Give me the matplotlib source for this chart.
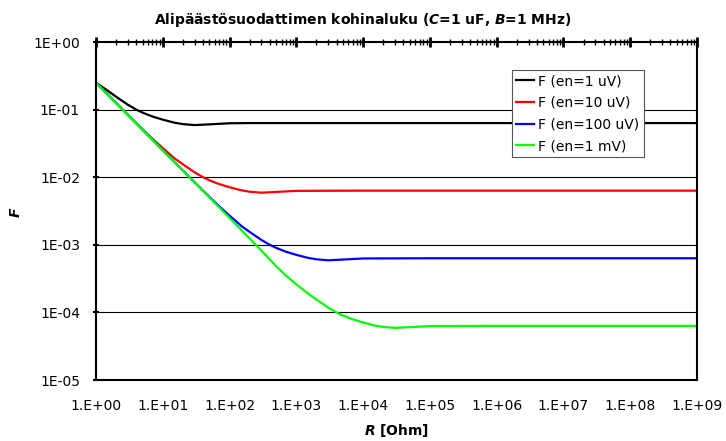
import math
import matplotlib
matplotlib.use("Agg")
import matplotlib.pyplot as plt
from matplotlib.ticker import FixedLocator, LogLocator, NullFormatter, FuncFormatter

plt.rcParams['font.family'] = ['DejaVu Sans']
plt.rcParams['mathtext.fontset'] = 'custom'
plt.rcParams['mathtext.it'] = 'DejaVu Sans:italic:bold'
plt.rcParams['mathtext.rm'] = 'DejaVu Sans:bold'
plt.rcParams['mathtext.bf'] = 'DejaVu Sans:bold'

# values (R in ohm, F dimensionless)
r_black = [1, 1.5, 2, 3, 4, 5, 7, 10, 15, 20, 30, 50, 100, 200, 1e3, 1e4, 1e9]
f_black = [0.25, 0.19, 0.155, 0.118, 0.100, 0.090, 0.079, 0.071, 0.064, 0.061,
           0.059, 0.0605, 0.0628, 0.0632, 0.0632, 0.0632, 0.0632]

r_red = [1, 2, 3, 5, 7, 10, 15, 20, 30, 40, 50, 70, 100, 150, 200, 300, 500, 1e3,
         1e4, 1e9]
f_red = [0.25, 0.125, 0.084, 0.051, 0.037, 0.027, 0.019, 0.0155, 0.0118, 0.0100,
         0.0090, 0.0079, 0.0071, 0.0064, 0.0061, 0.0059, 0.00605, 0.00628, 0.00632,
         0.00632]

r_blue = [1, 10, 30, 50, 70, 100, 150, 200, 300, 400, 500, 700, 1000, 1500, 2000,
          3000, 5000, 1e4, 1e5, 1e9]
f_blue = [0.25, 0.025, 0.0084, 0.0051, 0.0037, 0.0027, 0.0019, 0.00155, 0.00118,
          0.00100, 0.00090, 0.00079, 0.00071, 0.00064, 0.00061, 0.00059, 0.000605,
          0.000628, 0.000632, 0.000632]

r_green = [1, 10, 100, 300, 500, 700, 1000, 1500, 2000, 3000, 4000, 5000, 7000, 1e4,
           1.5e4, 2e4, 3e4, 5e4, 1e5, 1e6, 1e9]
f_green = [0.25, 0.025, 0.0025, 0.00082, 0.00048, 0.00035, 0.00026, 0.00019,
           0.000155, 0.000118, 0.000100, 0.000090, 0.000079, 0.000071, 0.000064,
           0.000061, 0.000059, 0.0000605, 0.0000628, 0.0000632, 0.0000632]

series = [
    (r_black, f_black, 'F (en=1 uV)', 'black'),
    (r_red, f_red, 'F (en=10 uV)', '#ff0000'),
    (r_blue, f_blue, 'F (en=100 uV)', '#0000ff'),
    (r_green, f_green, 'F (en=1 mV)', '#00ff00'),
]

x_ticks = [10.0 ** k for k in range(0, 10)]
y_ticks = [10.0 ** k for k in range(-5, 1)]

fig = plt.figure(figsize=(7.26, 4.41), dpi=100)
ax = fig.add_axes([96 / 726, 1 - 380 / 441, 601 / 726, 338 / 441])

for r, f, lab, col in series:
    ax.plot(r, f, color=col, lw=1.6, label=lab, solid_joinstyle='round')

ax.set_xscale('log')
ax.set_yscale('log')
ax.set_xlim(1, 1e9)
ax.set_ylim(1e-5, 1)

# horizontal gridlines at the decades
for y in y_ticks[1:-1]:
    ax.axhline(y, color='black', lw=0.8, zorder=0)

ax.xaxis.set_major_locator(FixedLocator(x_ticks))
ax.xaxis.set_minor_locator(LogLocator(base=10, subs=range(2, 10), numticks=50))
ax.xaxis.set_minor_formatter(NullFormatter())
ax.xaxis.set_major_formatter(FuncFormatter(lambda v, p: '1.E%+03d' % round(math.log10(v))))
ax.yaxis.set_major_locator(FixedLocator(y_ticks))
ax.yaxis.set_minor_locator(FixedLocator([]))
ax.yaxis.set_major_formatter(FuncFormatter(lambda v, p: '1E%+03d' % round(math.log10(v))))

# x axis drawn at the top (ticks) with its labels at the bottom
ax.tick_params(axis='x', which='both', bottom=False, top=True, labelbottom=True,
               labeltop=False, direction='inout', labelsize=10, pad=10)
ax.tick_params(axis='x', which='major', length=7, width=2)
ax.tick_params(axis='x', which='minor', length=5, width=1)
ax.tick_params(axis='y', which='major', direction='inout', length=5, width=1.5,
               labelsize=10, pad=9)

for s in ax.spines.values():
    s.set_linewidth(1.5)
    s.set_color('black')

ax.set_xlabel(r'$R$ [Ohm]', fontsize=10, fontweight='bold', labelpad=7)
fig.text(16 / 726, 1 - 212 / 441, r'$F$', fontsize=10, ha='center', va='center',
         rotation=90)

fig.text(0.5, 1 - 20 / 441, r'Alipäästösuodattimen kohinaluku ($C$=1 uF, $B$=1 MHz)',
         ha='center', va='center', fontsize=10, fontweight='bold')

leg = ax.legend(loc='upper left', bbox_to_anchor=((512 - 96) / 601, (380 - 70) / 338),
                fontsize=10, frameon=True, fancybox=False, framealpha=1,
                edgecolor='#555555', handlelength=1.3, handletextpad=0.3,
                labelspacing=0.55, borderpad=0.3, borderaxespad=0)
leg.get_frame().set_linewidth(0.8)

fig.savefig('out.png', dpi=100)
